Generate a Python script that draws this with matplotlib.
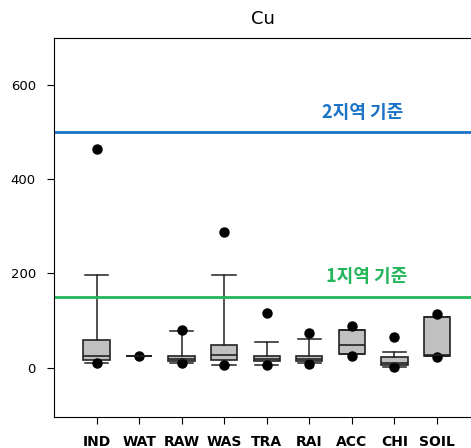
import matplotlib
matplotlib.use("Agg")
import matplotlib.pyplot as plt

# category labels and box statistics
labels = ["IND", "WAT", "RAW", "WAS", "TRA", "RAI", "ACC", "CHI", "SOIL"]
q1 = [17, 25, 15, 16, 13, 15, 28, 5, 25]
med = [24, 25, 19, 26, 18, 19, 47, 10, 27]
q3 = [58, 25, 24, 49, 24, 24, 79, 22, 107]
whislo = [10, 25, 10, 5, 6, 9, 28, 2, 25]
whishi = [196, 25, 77, 196, 55, 60, 79, 33, 107]
fliers = [[464, 9], [25], [79, 9], [288, 5], [117, 6], [74, 7], [88, 24], [64, 2], [113, 22]]

limit2 = 500
limit1 = 150

fig = plt.figure(figsize=(4.71, 4.48), dpi=100)
ax = fig.add_axes([0.1146, 0.0692, 0.8854, 0.8458])

stats = []
for i, lab in enumerate(labels):
    stats.append({'label': lab, 'q1': q1[i], 'med': med[i], 'q3': q3[i],
                  'whislo': whislo[i], 'whishi': whishi[i], 'fliers': fliers[i]})

pos = list(range(1, len(labels) + 1))
ax.bxp(stats, positions=pos, widths=0.62, patch_artist=True,
       boxprops=dict(facecolor='#c0c0c0', edgecolor='#222222', linewidth=1.2),
       medianprops=dict(color='#222222', linewidth=1.2),
       whiskerprops=dict(color='#222222', linewidth=1.1),
       capprops=dict(color='#222222', linewidth=1.1),
       flierprops=dict(marker='o', markerfacecolor='black', markeredgecolor='black',
                       markersize=6.5), capwidths=0.55)

ax.axhline(limit2, color='#1a73c6', lw=2)
ax.axhline(limit1, color='#22b55a', lw=2)

kr = ['Noto Sans CJK KR', 'DejaVu Sans']
ax.text(7.25, 542, "2지역 기준", color='#1a73c6', fontsize=13, fontweight='bold',
        ha='center', va='center', family=kr)
ax.text(7.35, 193, "1지역 기준", color='#22b55a', fontsize=13, fontweight='bold',
        ha='center', va='center', family=kr)

ax.set_xlim(0.0, 9.8)
ax.set_ylim(-105, 700)
ax.set_yticks([0, 200, 400, 600])
ax.set_xticks(pos)
ax.set_xticklabels(labels, fontweight='bold', fontsize=10)
ax.tick_params(axis='y', labelsize=9.5, length=5, pad=8)
ax.tick_params(axis='x', length=5, pad=8)
ax.spines['right'].set_visible(False)
ax.set_title("Cu", fontsize=13, pad=10)

fig.savefig("out.png", dpi=100)
